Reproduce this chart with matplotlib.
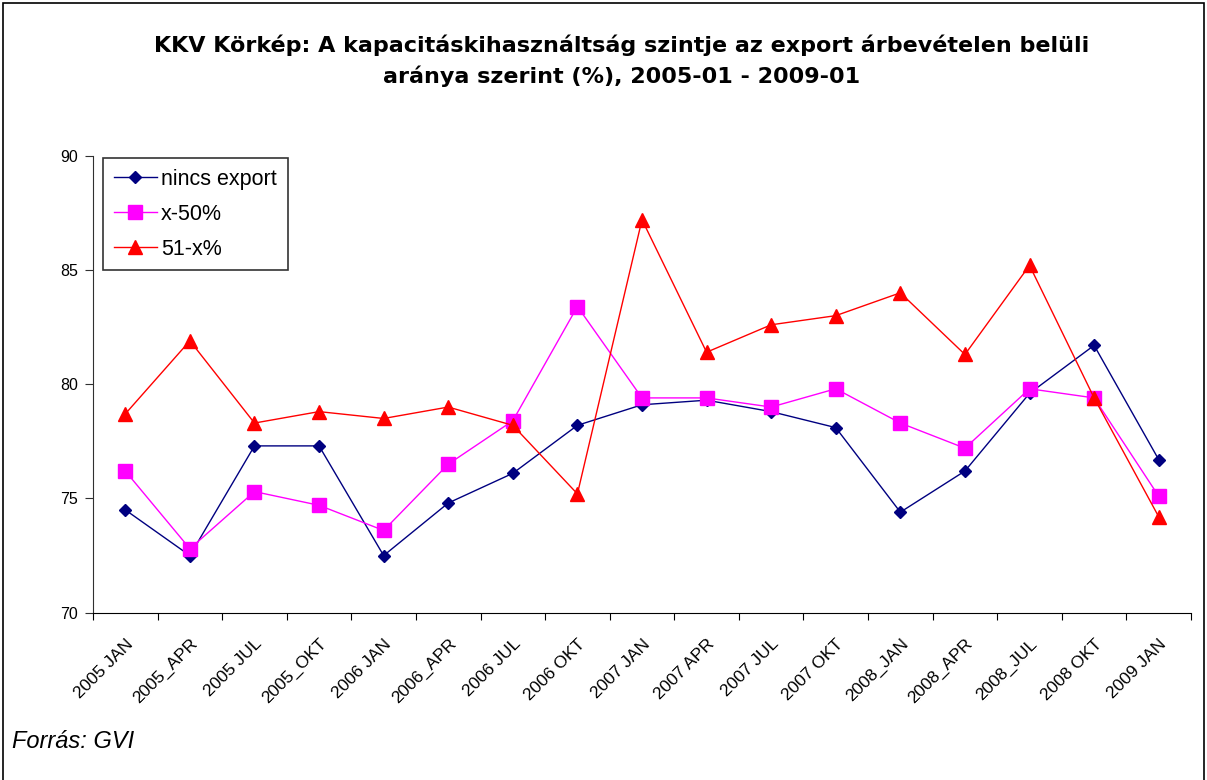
import matplotlib
matplotlib.use("Agg")
import matplotlib.pyplot as plt
from matplotlib.patches import Rectangle

# Adatok
categories = ["2005 JAN", "2005_APR", "2005 JUL", "2005_OKT", "2006 JAN", "2006_APR",
              "2006 JUL", "2006 OKT", "2007 JAN", "2007 APR", "2007 JUL", "2007 OKT",
              "2008_JAN", "2008_APR", "2008_JUL", "2008 OKT", "2009 JAN"]
nincs_export = [74.5, 72.5, 77.3, 77.3, 72.5, 74.8, 76.1, 78.2, 79.1, 79.3, 78.8, 78.1,
                74.4, 76.2, 79.6, 81.7, 76.7]
x_50 = [76.2, 72.8, 75.3, 74.7, 73.6, 76.5, 78.4, 83.4, 79.4, 79.4, 79.0, 79.8,
        78.3, 77.2, 79.8, 79.4, 75.1]
x_51 = [78.7, 81.9, 78.3, 78.8, 78.5, 79.0, 78.2, 75.2, 87.2, 81.4, 82.6, 83.0,
        84.0, 81.3, 85.2, 79.4, 74.2]
y_ticks = [70, 75, 80, 85, 90]

plt.rcParams['font.family'] = ['Liberation Sans', 'DejaVu Sans']

W, H = 1207, 780
fig = plt.figure(figsize=(W / 100, H / 100), dpi=100, facecolor='white')
ax = fig.add_axes([93 / W, 1 - 612.7 / H, (1191 - 93) / W, (612.7 - 155.7) / H])

x = list(range(len(categories)))
ax.plot(x, nincs_export, color='#000080', lw=1, marker='D', ms=6.5, label='nincs export')
ax.plot(x, x_50, color='#FF00FF', lw=1, marker='s', ms=9.5, label='x-50%')
ax.plot(x, x_51, color='#FF0000', lw=1, marker='^', ms=9.5, label='51-x%')

ax.set_xlim(-0.5, len(categories) - 0.5)
ax.set_ylim(70, 90)
ax.set_yticks(y_ticks)
ax.set_yticklabels([str(v) for v in y_ticks], fontsize=11.5)
ax.set_xticks([i - 0.5 for i in range(len(categories) + 1)])
ax.set_xticklabels([])
ax.set_xticks(x, minor=True)
ax.set_xticklabels(categories, minor=True, rotation=45, ha='right',
                   rotation_mode='anchor', fontsize=12.5)
ax.tick_params(axis='x', which='minor', length=0, pad=17)
ax.tick_params(axis='x', which='major', length=5, direction='out', color='black')
ax.tick_params(axis='y', length=6, direction='out', color='#303030', pad=5)

for s in ['top', 'right']:
    ax.spines[s].set_visible(False)
ax.spines['left'].set_color('#303030')
ax.spines['bottom'].set_color('black')

leg = ax.legend(loc='upper left', bbox_to_anchor=((103 - 93) / (1191 - 93), 0.995),
                fontsize=15.5, frameon=True, fancybox=False, borderpad=0.5,
                labelspacing=0.65, handlelength=2.0, handletextpad=0.2,
                borderaxespad=0)
leg.get_frame().set_edgecolor('black')
leg.get_frame().set_linewidth(1.2)

fig.text(0.515, 1 - 45 / H, "KKV Körkép: A kapacitáskihasználtság szintje az export árbevételen belüli",
         ha='center', va='center', fontsize=16, fontweight='bold', family='DejaVu Sans')
fig.text(0.515, 1 - 76 / H, "aránya szerint (%), 2005-01 - 2009-01",
         ha='center', va='center', fontsize=16, fontweight='bold', family='DejaVu Sans')
fig.text(12 / W, 1 - 742 / H, "Forrás: GVI", ha='left', va='center',
         fontsize=17, style='italic')

# keret
fig.patches.append(Rectangle((3 / W, -0.01), 1 - 6 / W, 1.01 - 3 / H, transform=fig.transFigure,
                             fill=False, edgecolor='black', lw=1.2))

fig.savefig("out.png", dpi=100, facecolor='white')
